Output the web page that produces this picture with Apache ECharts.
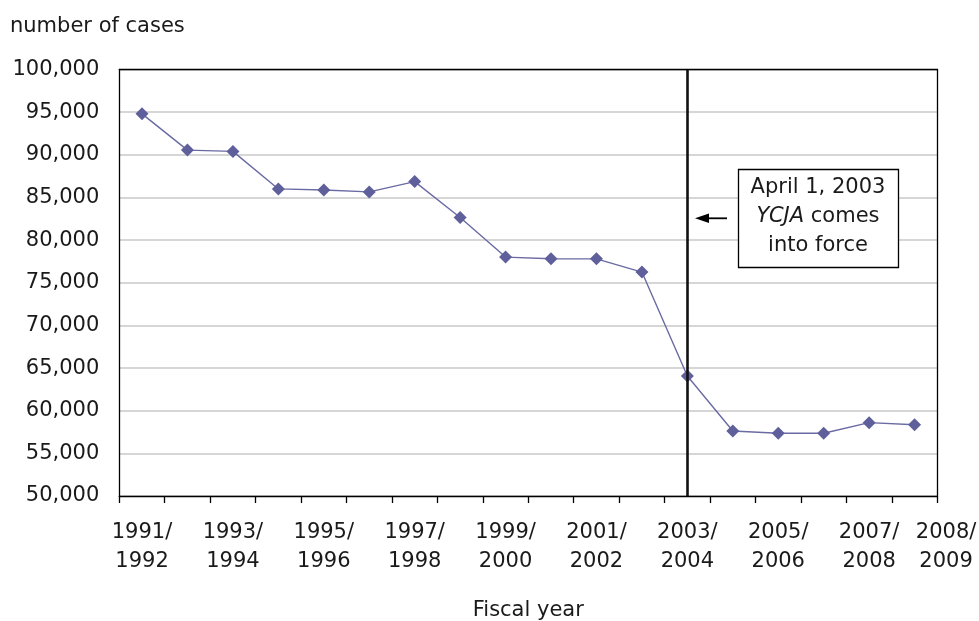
<!DOCTYPE html>
<html>
<head>
<meta charset="utf-8">
<script src="https://cdn.jsdelivr.net/npm/echarts@6/dist/echarts.min.js"></script>
<style>
html,body{margin:0;padding:0;background:#fff;}
#chart{width:979px;height:621px;}
</style>
</head>
<body>
<div id="chart"></div>
<script>
var categories = ['1991/\n1992','1992/\n1993','1993/\n1994','1994/\n1995','1995/\n1996','1996/\n1997','1997/\n1998','1998/\n1999','1999/\n2000','2000/\n2001','2001/\n2002','2002/\n2003','2003/\n2004','2004/\n2005','2005/\n2006','2006/\n2007','2007/\n2008','2008/\n2009'];
var cases = [94800, 90550, 90400, 86000, 85870, 85650, 86860, 82650, 78010, 77810, 77800, 76250, 64070, 57620, 57350, 57350, 58600, 58360];
var yTicks = {min: 50000, max: 100000, step: 5000};
var eventCategory = '2003/\n2004';
var annotationLines = ['April 1, 2003', '{i|YCJA} comes', 'into force'];

var FONT = 'Verdana, "DejaVu Sans", sans-serif';
var TXT = '#1a1a1a';
var lastIdx = categories.length - 1;

var chart = echarts.init(document.getElementById('chart'), null, {renderer: 'canvas'});
chart.setOption({
  animation: false,
  backgroundColor: '#fff',
  title: {
    text: 'number of cases',
    left: 10, top: 16, padding: 0,
    textStyle: {fontFamily: FONT, fontSize: 21, fontWeight: 'normal', color: TXT}
  },
  grid: {left: 119.3, right: 41.7, top: 69.5, bottom: 125, containLabel: false, outerBoundsMode: 'none'},
  xAxis: [{
    type: 'category',
    data: categories,
    boundaryGap: true,
    name: 'Fiscal year',
    nameLocation: 'middle',
    nameGap: 104,
    nameTextStyle: {fontFamily: FONT, fontSize: 21, color: TXT},
    axisLine: {show: true, lineStyle: {color: '#000', width: 1.3}},
    axisTick: {show: true, interval: 0, length: 7, inside: false, lineStyle: {color: '#000', width: 1.3}},
    axisLabel: {
      interval: 0,
      hideOverlap: false,
      margin: 22,
      fontFamily: FONT, fontSize: 21, color: TXT, lineHeight: 29,
      formatter: function (v, i) {
        if (i === lastIdx) {
          var p = v.split('\n');
          return '{s|' + p[0] + '}\n{s|' + p[1] + '}';
        }
        return i % 2 === 0 ? v : '';
      },
      rich: {s: {fontFamily: FONT, fontSize: 21, color: TXT, lineHeight: 29, padding: [0, 0, 0, 63]}}
    },
    splitLine: {show: false}
  }, {
    type: 'category',
    data: categories,
    position: 'top',
    z: 5,
    axisLine: {show: true, lineStyle: {color: '#000', width: 1.3}},
    axisTick: {show: false},
    axisLabel: {show: false},
    splitLine: {show: false}
  }],
  yAxis: [{
    type: 'value',
    min: yTicks.min, max: yTicks.max, interval: yTicks.step,
    axisLine: {show: true, lineStyle: {color: '#000', width: 1.3}},
    axisTick: {show: false},
    axisLabel: {
      margin: 20, fontFamily: FONT, fontSize: 21, color: TXT,
      formatter: function (v) { return v.toLocaleString('en-US'); }
    },
    splitLine: {show: true, lineStyle: {color: '#c8c8c8', width: 1.5}}
  }, {
    type: 'value',
    position: 'right',
    z: 5,
    min: yTicks.min, max: yTicks.max, interval: yTicks.step,
    axisLine: {show: true, lineStyle: {color: '#000', width: 1.3}},
    axisTick: {show: false},
    axisLabel: {show: false},
    splitLine: {show: false}
  }],
  series: [{
    type: 'line',
    data: cases,
    xAxisIndex: 0, yAxisIndex: 0,
    symbol: 'diamond',
    symbolSize: 13,
    showSymbol: true,
    itemStyle: {color: '#5f5f9b'},
    lineStyle: {color: '#6a6aa4', width: 1.4},
    z: 3,
    markLine: {
      silent: true,
      symbol: ['none', 'none'],
      label: {show: false},
      lineStyle: {color: '#111', width: 2.6, type: 'solid'},
      data: [{xAxis: eventCategory}]
    }
  }],
  graphic: [{
    type: 'group',
    children: [{
      type: 'rect',
      shape: {x: 738.5, y: 169.5, width: 160, height: 98},
      style: {fill: '#fff', stroke: '#000', lineWidth: 1.3},
      z: 10
    }, {
      type: 'text',
      x: 818, y: 216.5,
      style: {
        text: annotationLines.join('\n'),
        fontFamily: FONT, fontSize: 21, fill: TXT, lineHeight: 29,
        align: 'center', verticalAlign: 'middle',
        rich: {i: {fontFamily: FONT, fontSize: 21, fontStyle: 'italic', fill: TXT, lineHeight: 29}}
      },
      z: 11
    }, {
      type: 'line',
      shape: {x1: 727, y1: 218.3, x2: 705, y2: 218.3},
      style: {stroke: '#000', lineWidth: 1.8},
      z: 10
    }, {
      type: 'polygon',
      shape: {points: [[695, 218.3], [709, 213.6], [709, 223]]},
      style: {fill: '#000'},
      z: 10
    }]
  }]
});
</script>
</body>
</html>
